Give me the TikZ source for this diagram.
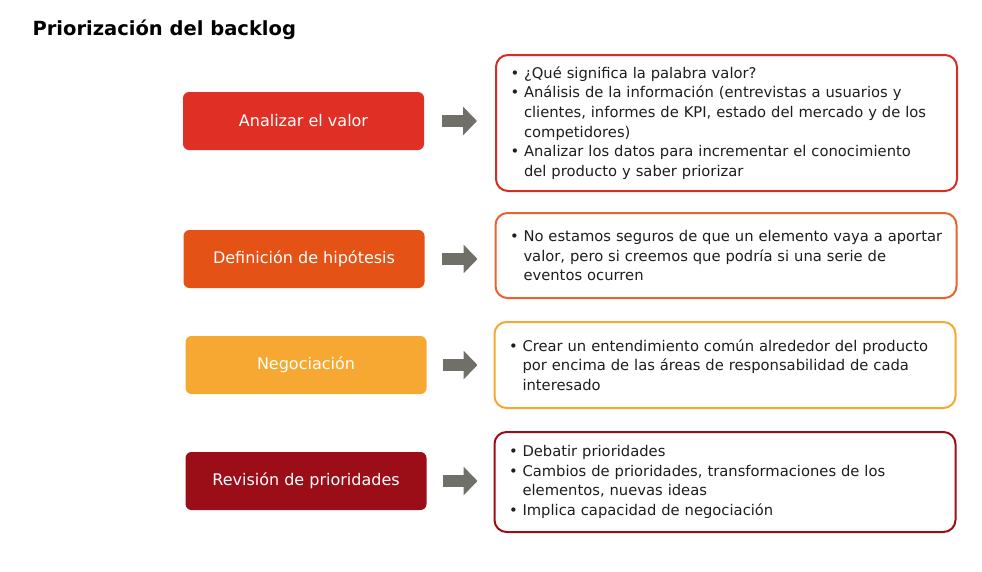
\documentclass[tikz,border=0pt]{standalone}
\usepackage{fontspec}
\setmainfont{DejaVu Sans}
\usepackage{tikz}
\usetikzlibrary{arrows.meta}
\definecolor{valred}{RGB}{224,48,38}
\definecolor{hiporange}{RGB}{229,82,22}
\definecolor{negyellow}{RGB}{246,168,50}
\definecolor{revdark}{RGB}{155,14,24}
\definecolor{arrowgray}{RGB}{112,112,104}
\definecolor{textdark}{RGB}{30,30,30}
\tikzset{stage/.style={rectangle, rounded corners=6pt, minimum width=241pt, minimum height=58pt, text=white, font=\fontsize{16}{19}\selectfont}}
\tikzset{detail/.style={rectangle, rounded corners=12pt, draw, line width=2pt, fill=white, minimum width=461pt, inner xsep=13pt, text width=435pt, text=textdark, font=\fontsize{14.75}{19.6}\selectfont}}
\tikzset{blockarrow/.style={arrowgray, line width=12pt, -{Triangle[width=28pt, length=14pt]}}}
\newcommand{\bitem}[1]{\noindent\hangindent=15pt\hangafter=1\hspace*{1.5pt}\makebox[13.5pt][l]{\textbullet}#1\par}

\begin{document}
\begin{tikzpicture}[x=1pt, y=-1pt]
    \useasboundingbox (0,0) rectangle (982,571);
    \node[anchor=base west, font=\bfseries\fontsize{19.5}{24}\selectfont] (title) at (29,35) {Priorización del backlog};

    \node[stage, fill=valred] (valor) at (303.5,121) {Analizar el valor};
    \node[stage, fill=hiporange] (hipo) at (304,259) {Definición de hipótesis};
    \node[stage, fill=negyellow] (nego) at (306,365) {Negociación};
    \node[stage, fill=revdark] (revi) at (306,481) {Revisión de prioridades};

    \node[detail, draw=valred!95!black, minimum height=136pt] (valortxt) at (726.5,123) {%
        \bitem{¿Qué significa la palabra valor?}
        \bitem{Análisis de la información (entrevistas a usuarios y\newline clientes, informes de KPI, estado del mercado y de los\newline competidores)}
        \bitem{Analizar los datos para incrementar el conocimiento\newline del producto y saber priorizar}};
    \node[detail, draw=hiporange!90!white, minimum height=85pt] (hipotxt) at (726,255.5) {%
        \bitem{No estamos seguros de que un elemento vaya a aportar\newline valor, pero si creemos que podría si una serie de\newline eventos ocurren}};
    \node[detail, draw=negyellow, minimum height=86pt] (negotxt) at (725,365) {%
        \bitem{Crear un entendimiento común alrededor del producto\newline por encima de las áreas de responsabilidad de cada\newline interesado}};
    \node[detail, draw=revdark, minimum height=100pt] (revitxt) at (725,482) {%
        \bitem{Debatir prioridades}
        \bitem{Cambios de prioridades, transformaciones de los\newline elementos, nuevas ideas}
        \bitem{Implica capacidad de negociación}};

    \draw[blockarrow] ([xshift=18pt]valor.east) -- ([xshift=-18pt]valortxt.west |- valor.east);
    \draw[blockarrow] ([xshift=17pt]hipo.east) -- ([xshift=-17pt]hipotxt.west |- hipo.east);
    \draw[blockarrow] ([xshift=16pt]nego.east) -- ([xshift=-16pt]negotxt.west |- nego.east);
    \draw[blockarrow] ([xshift=16pt]revi.east) -- ([xshift=-16pt]revitxt.west |- revi.east);
\end{tikzpicture}
\end{document}
